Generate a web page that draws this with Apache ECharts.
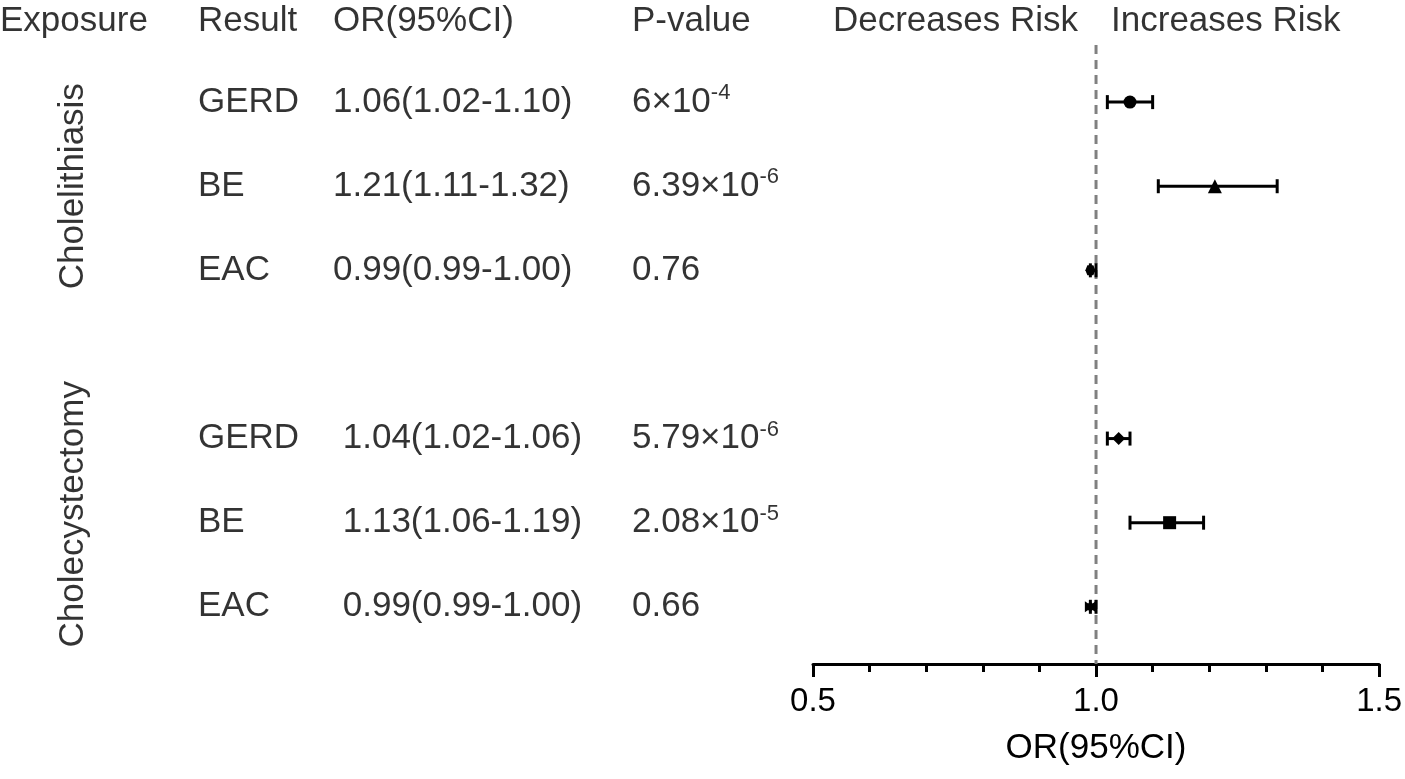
<!DOCTYPE html>
<html>
<head>
<meta charset="utf-8">
<title>Forest plot</title>
<script src="https://cdn.jsdelivr.net/npm/echarts@6/dist/echarts.min.js"></script>
<style>
  html, body { margin: 0; padding: 0; background: #fff; }
  #container { width: 1405px; height: 779px; }
</style>
</head>
<body>
<div id="container"></div>
<script>
// data
var exposures = ['Cholelithiasis', 'Cholecystectomy'];
var exposureRow = [2, 5.9];
var outcomes = ['GERD', 'BE', 'EAC', 'GERD', 'BE', 'EAC'];
var rowPos = [1, 2, 3, 5, 6, 7];
var groupOf = [0, 0, 0, 1, 1, 1];
var orVal = [1.06, 1.21, 0.99, 1.04, 1.13, 0.99];
var ciLow = [1.02, 1.11, 0.99, 1.02, 1.06, 0.99];
var ciHigh = [1.10, 1.32, 1.00, 1.06, 1.19, 1.00];
var pBase = ['6×10', '6.39×10', '0.76', '5.79×10', '2.08×10', '0.66'];
var pExp = ['-4', '-6', '', '-6', '-5', ''];
var headers = ['Exposure', 'Result', 'OR(95%CI)', 'P-value'];
var xTicks = [0.5, 1.0, 1.5];
var refOR = 1.0;

var font = 'Liberation Sans, Arial, sans-serif';
var colX = [0, 198, 333, 632];   // left edge of each text column (table grid units = px)
var headerRow = 0.04;
var markers = [
    'circle', 'triangle', 'path://M2,0 L8,0 L10,5 L8,10 L2,10 L0,5 Z',
    'diamond', 'rect', 'path://M0,0 L3,2 L5,0 L7,2 L10,0 L10,10 L7,8 L5,10 L3,8 L0,10 Z'
];
var markerSize = [13, 14, 10, 13, 13, 11];

function textSeries(points, extra) {
    return Object.assign({
        type: 'scatter',
        xAxisIndex: 1,
        yAxisIndex: 1,
        symbolSize: 0,
        silent: true,
        data: points,
        label: {
            show: true,
            position: 'right',
            distance: 0,
            color: '#000',
            fontFamily: font,
            fontSize: 35,
            formatter: function (p) { return p.data.text; }
        }
    }, extra || {});
}

var headerPts = headers.map(function (h, i) {
    return { value: [colX[i], headerRow], text: h };
});
var resultPts = outcomes.map(function (o, i) {
    return { value: [colX[1], rowPos[i]], text: o };
});
var orPts = orVal.map(function (v, i) {
    var s = v.toFixed(2) + '(' + ciLow[i].toFixed(2) + '-' + ciHigh[i].toFixed(2) + ')';
    return { value: [colX[2], rowPos[i]], text: (groupOf[i] ? ' ' : '') + s };
});
var pPts = pBase.map(function (b, i) {
    return { value: [colX[3], rowPos[i]], text: pExp[i] ? '{b|' + b + '}{s|' + pExp[i] + '}' : '{b|' + b + '}' };
});
var expoPts = exposures.map(function (e, i) {
    return { value: [73, exposureRow[i]], text: e };
});

var chart = echarts.init(document.getElementById('container'));
chart.setOption({
    animation: false,
    grid: [
        { left: 813, right: 22, top: 18, bottom: 115 },
        { left: 0, width: 813, top: 18, bottom: 115 }
    ],
    xAxis: [
        {
            gridIndex: 0,
            type: 'value',
            position: 'bottom',
            min: xTicks[0],
            max: xTicks[xTicks.length - 1],
            interval: 0.5,
            axisLine: { show: true, onZero: false, lineStyle: { color: '#000', width: 3 } },
            axisTick: { show: true, length: 13, lineStyle: { color: '#000', width: 3 } },
            minorTick: { show: true, splitNumber: 5, length: 8, lineStyle: { color: '#000', width: 3 } },
            splitLine: { show: false },
            axisLabel: {
                color: '#000', fontFamily: font, fontSize: 33, margin: 21,
                formatter: function (v) { return v.toFixed(1); }
            },
            name: 'OR(95%CI)',
            nameLocation: 'middle',
            nameGap: 67,
            nameTextStyle: { color: '#000', fontFamily: font, fontSize: 35 }
        },
        { gridIndex: 1, type: 'value', min: 0, max: 813, show: false }
    ],
    yAxis: [
        { gridIndex: 0, type: 'value', inverse: true, min: 0, max: 7.68, show: false },
        { gridIndex: 1, type: 'value', inverse: true, min: 0, max: 7.68, show: false }
    ],
    series: [
        {
            type: 'line',
            xAxisIndex: 0, yAxisIndex: 0,
            symbol: 'none',
            silent: true,
            z: 1,
            lineStyle: { color: '#808080', width: 3, type: [9, 6] },
            data: [[refOR, 0.32], [refOR, 7.68]]
        },
        {
            type: 'custom',
            xAxisIndex: 0, yAxisIndex: 0,
            z: 3,
            silent: true,
            data: rowPos.map(function (p, i) { return [ciLow[i], ciHigh[i], p]; }),
            renderItem: function (params, api) {
                var a = api.coord([api.value(0), api.value(2)]);
                var b = api.coord([api.value(1), api.value(2)]);
                var h = 7;
                var st = { stroke: '#000', lineWidth: 3 };
                return {
                    type: 'group',
                    children: [
                        { type: 'line', shape: { x1: a[0], y1: a[1], x2: b[0], y2: b[1] }, style: st },
                        { type: 'line', shape: { x1: a[0], y1: a[1] - h, x2: a[0], y2: a[1] + h }, style: st },
                        { type: 'line', shape: { x1: b[0], y1: b[1] - h, x2: b[0], y2: b[1] + h }, style: st }
                    ]
                };
            }
        },
        {
            type: 'scatter',
            xAxisIndex: 0, yAxisIndex: 0,
            z: 4,
            itemStyle: { color: '#000', opacity: 1 },
            data: orVal.map(function (v, i) {
                return { value: [v, rowPos[i]], symbol: markers[i], symbolSize: markerSize[i] };
            })
        },
        {
            type: 'scatter',
            xAxisIndex: 0, yAxisIndex: 0,
            symbolSize: 0,
            silent: true,
            data: [
                { value: [refOR, headerRow], text: 'Decreases Risk', side: 'left' },
                { value: [refOR, headerRow], text: 'Increases Risk', side: 'right' }
            ].map(function (d) {
                d.label = { position: d.side, distance: d.side === 'left' ? 18 : 15 };
                return d;
            }),
            label: {
                show: true, color: '#000', fontFamily: font, fontSize: 35,
                formatter: function (p) { return p.data.text; }
            }
        },
        textSeries(headerPts),
        textSeries(resultPts),
        textSeries(orPts),
        textSeries(pPts, {
            label: {
                show: true, position: 'right', distance: 0,
                formatter: function (p) { return p.data.text; },
                rich: {
                    b: { color: '#000', fontFamily: font, fontSize: 35, lineHeight: 40 },
                    s: { color: '#000', fontFamily: font, fontSize: 22, lineHeight: 18, verticalAlign: 'top' }
                }
            }
        }),
        textSeries(expoPts, {
            label: {
                show: true, position: 'inside', rotate: 90,
                color: '#000', fontFamily: font, fontSize: 35,
                formatter: function (p) { return p.data.text; }
            }
        })
    ]
});
</script>
</body>
</html>
